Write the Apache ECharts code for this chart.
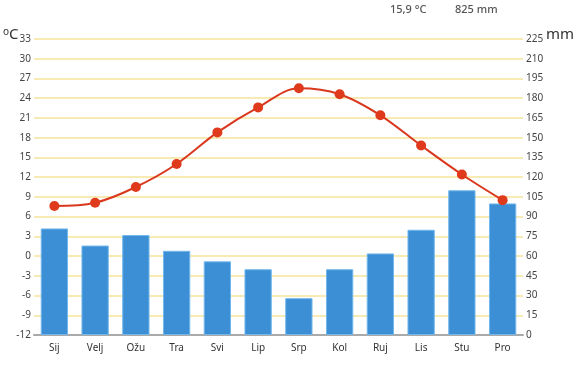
<!DOCTYPE html>
<html>
<head>
<meta charset="utf-8">
<script src="https://cdn.jsdelivr.net/npm/echarts@6/dist/echarts.min.js"></script>
<style>html,body{margin:0;padding:0;background:#fff}#c{width:577px;height:365px}</style>
</head>
<body>
<div id="c"></div>
<script>
const months = ['Sij','Velj','Ožu','Tra','Svi','Lip','Srp','Kol','Ruj','Lis','Stu','Pro'];
const temperature = [7.6, 8.1, 10.5, 14.0, 18.8, 22.6, 25.5, 24.6, 21.4, 16.8, 12.4, 8.5];
const precipitation = [81, 68, 76, 64, 56, 50, 28, 50, 62, 80, 110, 100];
const summaryTemp = '15,9 °C';
const summaryPrec = '825 mm';

const chart = echarts.init(document.getElementById('c'), null, {renderer: 'canvas'});
const font = '"Noto Sans", sans-serif';
chart.setOption({
  animation: false,
  backgroundColor: '#ffffff',
  grid: {left: 34, right: 54, top: 39, bottom: 30, containLabel: false},
  graphic: [
    {type: 'text', left: 390, top: 4, style: {text: summaryTemp, font: '500 11px ' + font, fill: '#555'}},
    {type: 'text', left: 455, top: 4, style: {text: summaryPrec, font: '500 11px ' + font, fill: '#555'}},
    {type: 'text', left: 3, top: 27, style: {
      text: '{s|o}{c|C}',
      rich: {s: {fontSize: 10, fill: '#333', verticalAlign: 'top', padding: [0,0,6,0], fontFamily: font}, c: {fontSize: 15, fill: '#333', fontFamily: font}}
    }},
    {type: 'text', left: 546, top: 27, style: {text: 'mm', font: '15px ' + font, fill: '#333'}}
  ],
  xAxis: {
    type: 'category', data: months,
    axisLine: {onZero: false, lineStyle: {color: '#aaaaaa', width: 2}},
    axisTick: {show: false},
    axisLabel: {color: '#333', fontSize: 10, fontFamily: font, margin: 8}
  },
  yAxis: [
    {type: 'value', min: -12, max: 33, interval: 3, position: 'left',
     axisLine: {show: false}, axisTick: {show: false},
     axisLabel: {color: '#444', fontSize: 10, fontFamily: font, margin: 3},
     splitLine: {lineStyle: {color: '#f6e39a', width: 1.5}}},
    {type: 'value', min: 0, max: 225, interval: 15, position: 'right',
     axisLine: {show: false}, axisTick: {show: false},
     axisLabel: {color: '#444', fontSize: 10, fontFamily: font, margin: 3},
     splitLine: {show: false}}
  ],
  series: [
    {type: 'bar', yAxisIndex: 1, data: precipitation, barCategoryGap: '33%',
     itemStyle: {color: '#3d8fd5', borderColor: '#72b8ec', borderWidth: 1}},
    {type: 'line', yAxisIndex: 0, data: temperature, smooth: 0.35,
     symbol: 'circle', symbolSize: 10,
     lineStyle: {color: '#d9381e', width: 2},
     itemStyle: {color: '#df3a1c'}}
  ]
});
</script>
</body>
</html>
